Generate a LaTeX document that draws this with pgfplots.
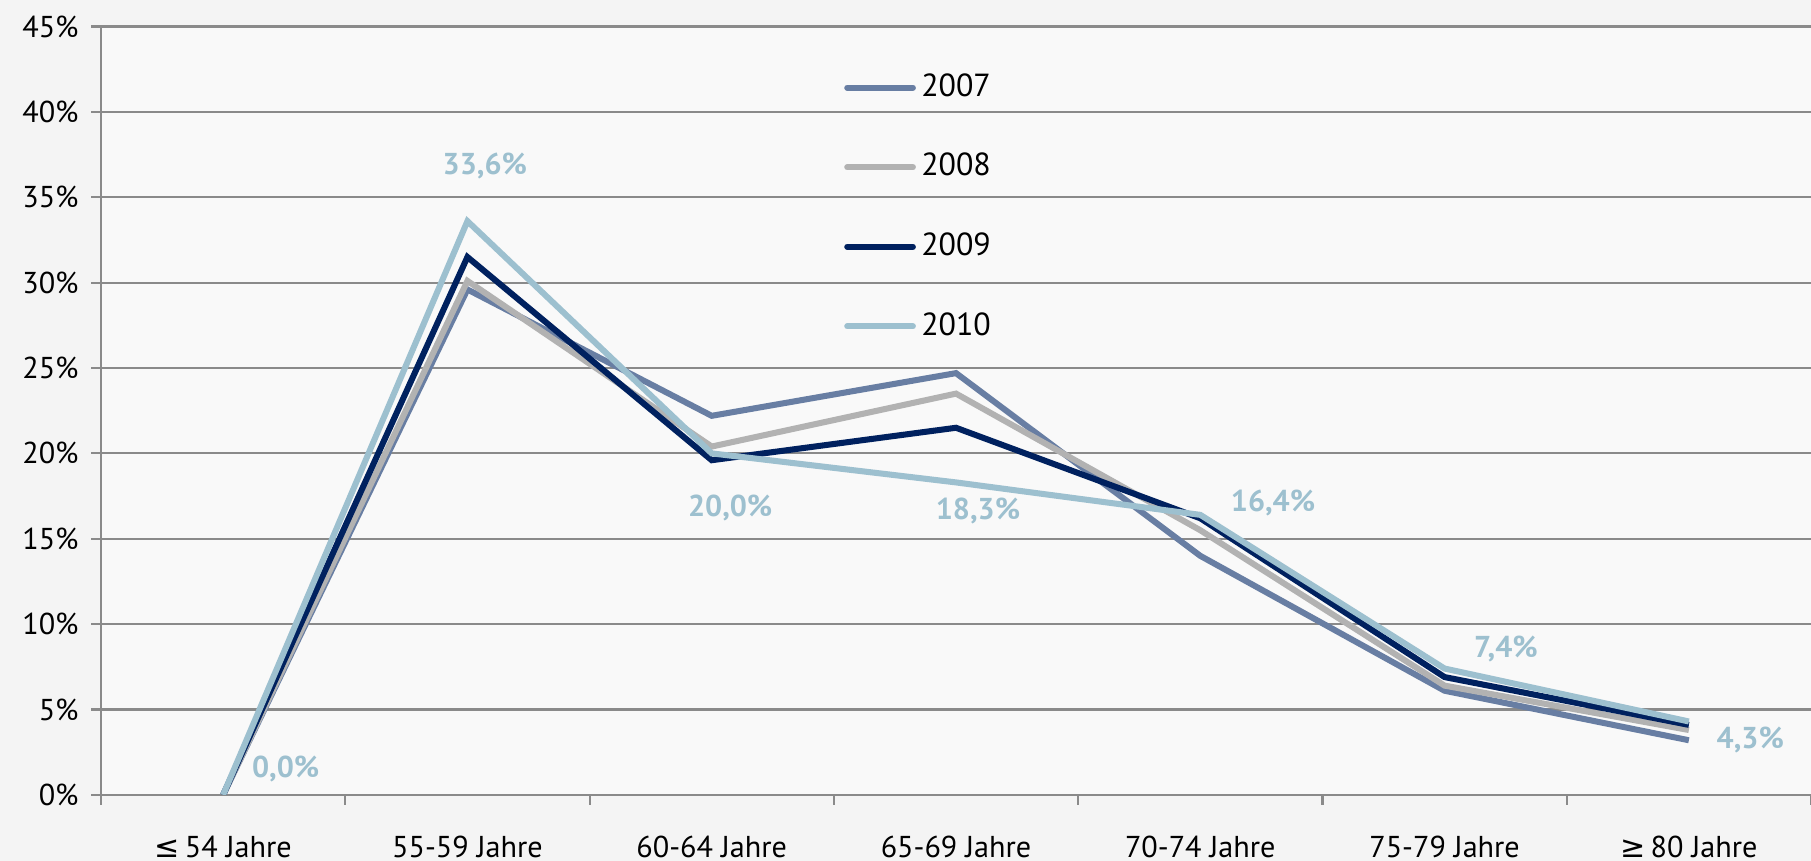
\documentclass[border=0pt]{standalone}
\usepackage{pgfplots}
\pgfplotsset{compat=1.18}
\usepackage{pgfplotstable}
\usepackage{fontspec}
\setmainfont{PT Sans}
\newfontfamily\dejavu{DejaVu Sans}
\usetikzlibrary{backgrounds}

\definecolor{c07}{HTML}{687EA3}
\definecolor{c08}{HTML}{B2B2B2}
\definecolor{c09}{HTML}{00215F}
\definecolor{c10}{HTML}{9DC0CF}
\definecolor{gridc}{HTML}{8A8A8A}
\definecolor{bgc}{HTML}{F4F4F4}
\definecolor{plotbg}{HTML}{F9F9F9}

% dx/dy: offset of the 2010 value labels (pt)
\pgfplotstableread{
x y07 y08 y09 y10 dx dy
0 0.0 0.0 0.0 0.0 17.6 7.2
1 29.6 30.1 31.5 33.6 4.9 15.6
2 22.2 20.4 19.6 20.0 5.2 -15.3
3 24.7 23.5 21.5 18.3 6.2 -8.1
4 14.0 15.5 16.2 16.4 20.5 3.3
5 6.1 6.4 6.9 7.4 17.3 5.5
6 3.2 3.8 4.1 4.3 17.3 -5.2
}\datatable

\begin{document}
\begin{tikzpicture}
\begin{axis}[
    scale only axis,
    width=481.8pt, height=216.5pt,
    xmin=-0.5, xmax=6.5, ymin=0, ymax=45,
    axis background/.style={fill=plotbg},
    axis lines*=left,
    axis line style={gridc, line width=0.6pt, -},
    ytick={0,5,...,45},
    yticklabel={\pgfmathprintnumber{\tick}\%},
    ymajorgrids,
    grid style={gridc, line width=0.6pt},
    xtick={0,...,6},
    xticklabels={{\dejavu ≤}\,54 Jahre, 55-59 Jahre, 60-64 Jahre, 65-69 Jahre,
                 70-74 Jahre, 75-79 Jahre, {\dejavu ≥}\,80 Jahre},
    minor xtick={-0.5,0.5,...,6.5},
    major x tick style={draw=none},
    tick align=outside,
    tick style={gridc, line width=0.6pt},
    major tick length=2.8pt, minor tick length=2.8pt,
    tick label style={font=\fontsize{8.5}{10}\selectfont, text=black},
    xticklabel style={yshift=-7.5pt, inner ysep=1pt},
    /pgf/number format/assume math mode=true,
    legend cell align=left,
    legend image code/.code={\draw[#1, line cap=round] (0pt,0pt) -- (18.5pt,0pt);},
    legend style={draw=none, fill=none, at={(0.428,0.958)}, anchor=north west,
        font=\fontsize{9}{11}\selectfont, row sep=10.5pt,
        nodes={inner xsep=1.5pt}},
    every axis plot/.append style={line width=1.7pt},
]
\addplot[c07] table[x=x, y=y07] {\datatable};
\addlegendentry{2007}
\addplot[c08] table[x=x, y=y08] {\datatable};
\addlegendentry{2008}
\addplot[c09] table[x=x, y=y09] {\datatable};
\addlegendentry{2009}
\addplot[c10,
    point meta=y,
    nodes near coords={\pgfmathprintnumber[fixed,fixed zerofill,precision=1,use comma]{\pgfplotspointmeta}\%},
    visualization depends on={\thisrow{dx} \as \dx},
    visualization depends on={\thisrow{dy} \as \dy},
    every node near coord/.append style={font=\fontsize{8.5}{10}\selectfont\bfseries,
        text=c10, anchor=center, xshift=\dx pt, yshift=\dy pt},
] table[x=x, y=y10] {\datatable};
\addlegendentry{2010}
\end{axis}
\begin{scope}[on background layer]
\fill[bgc] ([xshift=-28.46pt, yshift=-18.6pt]current axis.south west)
    rectangle ([yshift=7.47pt]current axis.north east);
\end{scope}
\pgfresetboundingbox
\path ([xshift=-28.46pt, yshift=-18.6pt]current axis.south west)
    rectangle ([yshift=7.47pt]current axis.north east);
\end{tikzpicture}
\end{document}
